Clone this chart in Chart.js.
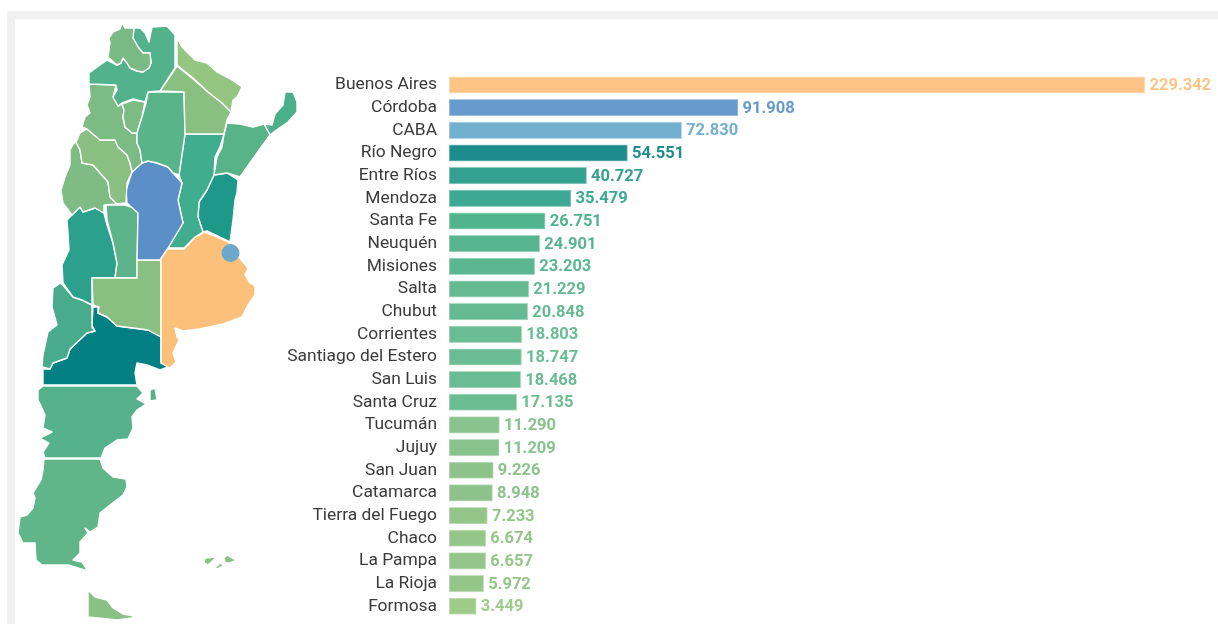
<!DOCTYPE html>
<html lang="es">
<head>
<meta charset="utf-8">
<title>Provincias</title>
<script src="https://cdn.jsdelivr.net/npm/chart.js@4"></script>
<style>
    html, body { margin: 0; padding: 0; background: #fff; overflow: hidden; }
    #frame {
        position: absolute; left: 7px; top: 11px; width: 1400px; height: 800px;
        border-left: 8px solid #f0f0f0; border-top: 8px solid #f0f0f0;
        border-top-left-radius: 4px;
    }
    canvas { position: absolute; left: 0; top: 0; }
</style>
</head>
<body>
<div id="frame"></div>
<canvas id="barChart" width="1218" height="640"></canvas>
<canvas id="mapChart" width="310" height="624"></canvas>
<script>
// Ranking por provincia
const provinces = ['Buenos Aires', 'Córdoba', 'CABA', 'Río Negro', 'Entre Ríos', 'Mendoza', 'Santa Fe', 'Neuquén',
    'Misiones', 'Salta', 'Chubut', 'Corrientes', 'Santiago del Estero', 'San Luis', 'Santa Cruz', 'Tucumán',
    'Jujuy', 'San Juan', 'Catamarca', 'Tierra del Fuego', 'Chaco', 'La Pampa', 'La Rioja', 'Formosa'];
const totals = [229342, 91908, 72830, 54551, 40727, 35479, 26751, 24901, 23203, 21229, 20848, 18803, 18747,
    18468, 17135, 11290, 11209, 9226, 8948, 7233, 6674, 6657, 5972, 3449];
const barColors = ['#fdc486', '#6699cc', '#73afcf', '#1d8c8c', '#34a08f', '#3da893', '#50b48f', '#57b592',
    '#5ab792', '#65ba92', '#65ba92', '#6abc92', '#6abc92', '#6abc92', '#6bbc90', '#88c28c',
    '#88c28c', '#8dc38a', '#8dc38a', '#95c689', '#95c689', '#95c689', '#95c689', '#9dcb88'];

// The value axis starts below zero so even the smallest bar keeps some length
const axisMin = -5743;
const axisMax = 254000;

// Province outlines in map units, x to the right and y downwards
const outlineJujuy = [[122,23],[125,28],[134,28],[133,38],[138,47],[143,53],[150,53],[151,63],[149,68],[143,72],[137,71],[130,68],[127,63],[123,58],[121,63],[117,65],[108,57],[110,43],[109,38],[113,32],[120,29]];
const outlineSalta = [[134,28],[140,28],[145,33],[149,42],[152,27],[167,26],[175,35],[175,68],[160,91],[148,92],[145,102],[133,99],[122,103],[118,106],[113,97],[117,90],[116,85],[89,84],[89,73],[107,60],[117,65],[121,63],[123,58],[127,63],[130,68],[137,71],[143,72],[149,68],[151,63],[150,53],[143,53],[138,47],[133,38]];
const outlineFormosa = [[177,38],[182,47],[195,60],[207,63],[217,72],[232,80],[242,87],[237,97],[233,100],[231,112],[222,103],[208,92],[193,78],[177,65]];
const outlineChaco = [[177,66],[193,79],[208,92],[222,103],[231,112],[227,120],[224,134],[185,134],[184,92],[160,91]];
const outlineSantiago = [[148,92],[184,92],[185,134],[179,175],[173,173],[168,167],[157,163],[148,161],[142,163],[140,150],[137,143],[137,133],[142,117],[146,103]];
const outlineTucuman = [[122,104],[133,100],[145,102],[142,117],[137,133],[132,133],[125,127],[123,117],[124,110]];
const outlineCatamarca = [[89,84],[116,85],[113,97],[118,106],[122,104],[124,110],[123,117],[125,127],[132,133],[137,133],[137,143],[140,150],[142,163],[132,172],[130,163],[127,155],[118,147],[115,140],[100,140],[87,129],[82,127],[85,117],[90,113],[87,105],[90,97]];
const outlineLaRioja = [[87,129],[100,140],[115,140],[118,147],[127,155],[130,163],[132,172],[127,183],[126,203],[117,204],[110,197],[108,182],[93,165],[82,163],[80,150],[76,142],[80,133]];
const outlineSanJuan = [[74,143],[76,142],[80,150],[82,163],[93,165],[108,182],[110,197],[117,204],[105,205],[104,213],[95,208],[83,212],[80,207],[72,215],[63,203],[61,190],[65,177],[70,165],[70,150]];
const outlineCordoba = [[132,172],[142,163],[148,161],[157,163],[168,167],[173,173],[182,183],[178,200],[183,223],[168,248],[160,260],[137,260],[138,213],[127,203],[126,190]];
const outlineSantaFe = [[185,134],[224,134],[220,147],[215,157],[214,175],[207,190],[199,202],[198,217],[203,232],[195,237],[184,248],[168,248],[183,223],[178,200],[182,183],[179,175]];
const outlineCorrientes = [[227,123],[240,124],[253,127],[264,124],[270,135],[257,153],[240,177],[227,173],[214,175],[217,157],[222,147],[224,134]];
const outlineMisiones = [[264,124],[270,135],[275,131],[288,122],[297,112],[297,102],[293,92],[285,92],[283,105],[275,114],[272,125]];
const outlineEntreRios = [[214,175],[227,173],[238,180],[237,193],[235,200],[233,220],[230,242],[207,231],[203,232],[198,217],[199,202],[207,190]];
const outlineBuenosAires = [[205,232],[222,239],[230,243],[237,255],[248,268],[245,275],[250,283],[255,286],[255,295],[248,305],[242,317],[223,324],[200,329],[183,331],[175,328],[177,337],[179,340],[173,353],[176,362],[170,368],[161,363],[161,249],[184,249],[195,237]];
const outlineLaPampa = [[137,260],[161,260],[161,337],[148,330],[133,328],[117,326],[107,317],[98,313],[99,307],[93,305],[92,278],[137,278]];
const outlineSanLuis = [[106,205],[125,205],[134,208],[138,213],[137,278],[115,278],[117,263],[113,243],[107,220]];
const outlineMendoza = [[67,220],[72,215],[80,207],[83,212],[95,208],[104,213],[107,225],[113,243],[117,263],[115,278],[92,278],[92,305],[82,300],[73,297],[63,283],[62,265],[69,250],[68,233]];
const outlineNeuquen = [[61,283],[73,297],[82,300],[92,305],[92,327],[95,331],[87,333],[70,349],[67,358],[53,363],[50,369],[42,367],[43,355],[48,332],[57,325],[52,307],[53,288]];
const outlineRioNegro = [[43,369],[50,369],[53,363],[67,358],[70,349],[87,333],[95,331],[92,325],[93,307],[98,307],[98,313],[107,317],[117,326],[133,328],[148,330],[161,337],[161,363],[168,367],[160,370],[147,365],[137,363],[135,373],[137,385],[43,385]];
const outlineChubut = [[38,390],[43,386],[137,386],[143,393],[137,399],[146,404],[137,410],[132,417],[133,428],[128,439],[117,440],[105,448],[101,458],[45,458],[43,452],[49,443],[40,438],[52,432],[43,428],[45,415],[42,408],[38,400]];
const outlineValdes = [[150,390],[155,388],[157,400],[150,401]];
const outlineSantaCruz = [[44,459],[100,459],[103,468],[113,477],[126,479],[127,487],[123,495],[110,505],[100,513],[98,527],[90,532],[85,528],[88,533],[80,542],[80,553],[73,560],[82,562],[88,571],[68,565],[42,565],[36,560],[35,543],[23,543],[18,533],[20,517],[27,515],[33,508],[35,498],[33,493],[41,480],[43,470]];
const outlineTierraFuego = [[88,590],[95,597],[107,600],[113,608],[123,614],[134,616],[132,618],[117,620],[88,617]];
const outlineTierraNorte = [[88,581],[90,584],[88,585]];
const outlineSoledad = [[224,558],[227,555],[232,558],[237,560],[230,563],[225,563]];
const outlineGranMalvina = [[205,558],[217,557],[208,565],[204,563]];
const outlineGranMalvinaSur = [[215,568],[220,563],[224,565],[217,569]];
const outlinePebble = [[198,567],[204,567],[199,569]];

const mapShapes = [
    [outlineJujuy, '#7abb85'], [outlineSalta, '#52b28c'], [outlineFormosa, '#94c581'], [outlineChaco, '#89bf80'],
    [outlineSantiago, '#5ab48a'], [outlineTucuman, '#7cbb84'], [outlineCatamarca, '#7cbb84'], [outlineLaRioja, '#89c081'],
    [outlineSanJuan, '#7fbc83'], [outlineCordoba, '#5a8fc8'], [outlineSantaFe, '#40ad8f'], [outlineCorrientes, '#58b488'],
    [outlineMisiones, '#4ab08c'], [outlineEntreRios, '#1e9888'], [outlineBuenosAires, '#fcc07a'], [outlineLaPampa, '#89c081'],
    [outlineSanLuis, '#5db48a'], [outlineMendoza, '#2ba08c'], [outlineNeuquen, '#47ab8c'], [outlineRioNegro, '#038084'],
    [outlineChubut, '#55b28c'], [outlineValdes, '#55b28c'], [outlineSantaCruz, '#60b688'], [outlineTierraFuego, '#88c182'],
    [outlineTierraNorte, '#88c182'], [outlineSoledad, '#88c182'], [outlineGranMalvina, '#88c182'],
    [outlineGranMalvinaSur, '#88c182'], [outlinePebble, '#88c182']
];
const cabaMarker = [{ x: 230.5, y: 253 }];

Chart.defaults.font.family = 'Roboto, sans-serif';
Chart.defaults.animation = false;

function formatThousands(value) {
    return String(value).replace(/\B(?=(\d{3})+$)/g, '.');
}

// Writes each total right after the end of its bar, in the bar's colour
const valueLabels = {
    id: 'valueLabels',
    afterDatasetsDraw(chart) {
        const ctx = chart.ctx;
        ctx.save();
        ctx.font = 'bold 16.5px Roboto, sans-serif';
        ctx.textAlign = 'left';
        ctx.textBaseline = 'middle';
        chart.getDatasetMeta(0).data.forEach((bar, i) => {
            ctx.fillStyle = barColors[i];
            ctx.fillText(formatThousands(totals[i]), bar.x + 4.5, bar.y + 1);
        });
        ctx.restore();
    }
};

new Chart(document.getElementById('barChart'), {
    type: 'bar',
    data: {
        labels: provinces,
        datasets: [{
            data: totals,
            base: axisMin,
            backgroundColor: barColors,
            borderColor: barColors.map(c => c + '88'),
            borderWidth: 1,
            borderSkipped: false,
            barThickness: 16.5
        }]
    },
    options: {
        indexAxis: 'y',
        responsive: false,
        layout: { autoPadding: false, padding: { top: 73.7, bottom: 11.7 } },
        plugins: { legend: { display: false }, tooltip: { enabled: false } },
        scales: {
            x: { display: false, min: axisMin, max: axisMax },
            y: {
                afterFit: scale => { scale.width = 449; },
                grid: { display: false, drawTicks: false },
                border: { display: false },
                ticks: { autoSkip: false, color: '#3a3a3a', padding: 12, font: { size: 17.4 } }
            }
        }
    },
    plugins: [valueLabels]
});

// Map: every province is a closed line filled on itself
const mapDatasets = mapShapes.map(([outline, color]) => ({
    data: [...outline, outline[0]].map(([x, y]) => ({ x, y })),
    showLine: true,
    fill: 'shape',
    tension: 0,
    backgroundColor: color,
    borderColor: '#fff',
    borderWidth: 1.4,
    borderJoinStyle: 'round',
    pointRadius: 0
}));
mapDatasets.unshift({
    data: cabaMarker,
    pointRadius: 9,
    pointBorderWidth: 0,
    pointBackgroundColor: '#6aa8cc',
    order: -1
});

new Chart(document.getElementById('mapChart'), {
    type: 'scatter',
    data: { datasets: mapDatasets },
    options: {
        responsive: false,
        layout: { autoPadding: false },
        plugins: { legend: { display: false }, tooltip: { enabled: false } },
        scales: {
            x: { display: false, min: 0, max: 310 },
            y: { display: false, min: 0, max: 624, reverse: true }
        }
    }
});
</script>
</body>
</html>
